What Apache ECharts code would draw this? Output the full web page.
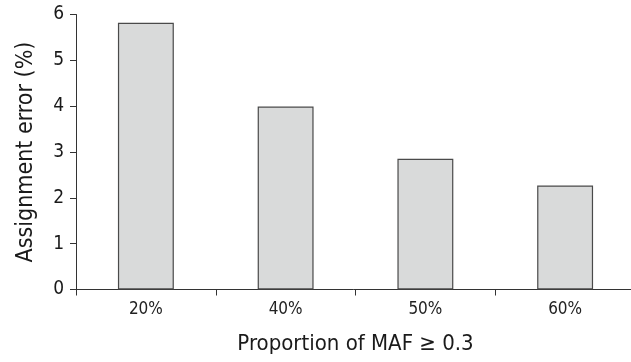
<!DOCTYPE html>
<html><head><meta charset="utf-8">
<script src="https://cdn.jsdelivr.net/npm/echarts@6/dist/echarts.min.js"></script>
<style>html,body{margin:0;padding:0;background:#fff}#c{width:631px;height:362px}</style>
</head><body><div id="c"></div>
<script>
const categories = ['20%', '40%', '50%', '60%'];
const errorValues = [5.82, 3.99, 2.85, 2.27];
const yTicks = [0, 1, 2, 3, 4, 5, 6];
const FONT = '"DejaVu Sans Condensed", "Liberation Sans Narrow", sans-serif';
const chart = echarts.init(document.getElementById('c'), null, {renderer: 'canvas'});
chart.setOption({
  animation: false,
  grid: {left: 76, top: 14.5, width: 559, height: 275, outerBoundsMode: 'none', containLabel: false},
  xAxis: {
    type: 'category', data: categories,
    name: 'Proportion of MAF ≥ 0.3', nameLocation: 'middle', nameGap: 44,
    nameTextStyle: {fontFamily: FONT, fontSize: 22, color: '#1a1a1a'},
    axisLine: {lineStyle: {color: '#333', width: 1}},
    axisTick: {show: true, length: 6, lineStyle: {color: '#333'}},
    axisLabel: {fontFamily: FONT, fontSize: 17, color: '#222', margin: 12}
  },
  yAxis: {
    type: 'value', min: yTicks[0], max: yTicks[yTicks.length - 1], interval: 1,
    name: 'Assignment error (%)', nameLocation: 'middle', nameGap: 38,
    nameTextStyle: {fontFamily: FONT, fontSize: 23, color: '#1a1a1a'},
    axisLine: {show: true, lineStyle: {color: '#333', width: 1}},
    axisTick: {show: true, length: 6, lineStyle: {color: '#333'}},
    axisLabel: {fontFamily: FONT, fontSize: 19, color: '#1a1a1a', margin: 12},
    splitLine: {show: false}
  },
  series: [{
    type: 'bar', data: errorValues, barWidth: '40%',
    itemStyle: {color: '#d9dada', borderColor: '#4a4a4a', borderWidth: 1.2}
  }]
});
</script></body></html>
